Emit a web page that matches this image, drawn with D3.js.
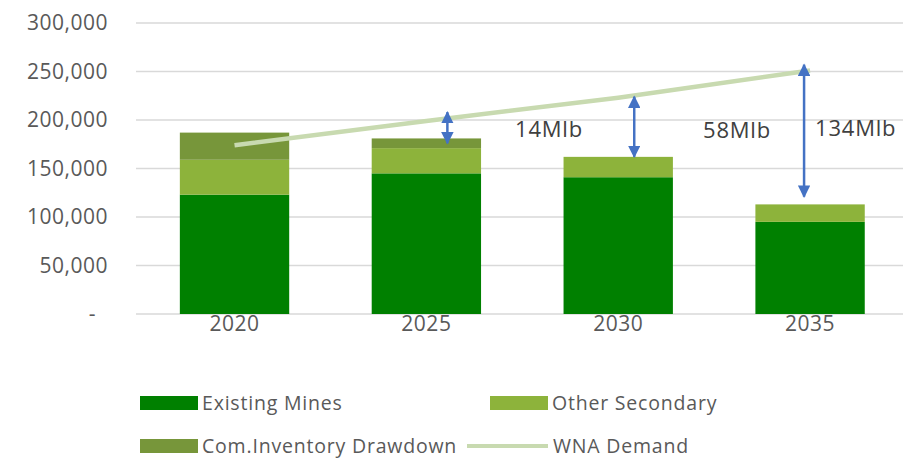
<!DOCTYPE html>
<html>
<head>
<meta charset="utf-8">
<script src="https://cdn.jsdelivr.net/npm/d3@7"></script>
<style>
  body { margin: 0; background: #fff; }
  svg { display: block; font-family: "Open Sans", sans-serif; }
</style>
</head>
<body>
<svg id="chart" width="917" height="459"></svg>
<script>
// DATA
const years = ["2020", "2025", "2030", "2035"];
const existingMines = [123000, 145000, 141000, 95000];
const otherSecondary = [36000, 26000, 21000, 18000];
const inventoryDrawdown = [28000, 10000, 0, 0];
const wnaDemand = [174000, 199000, 223000, 251000];

// supply gap arrows (top, bottom values) and their labels
const gapYears = ["2025", "2030", "2035"];
const gapTop = [208000, 224000, 257000];
const gapBottom = [176000, 162000, 121000];
const gapLabels = ["14Mlb", "58Mlb", "134Mlb"];

const yTicks = [0, 50000, 100000, 150000, 200000, 250000, 300000];

const seriesNames = ["Existing Mines", "Other Secondary", "Com.Inventory Drawdown"];
const seriesColors = ["#008000", "#8db33b", "#77963a"];
const demandColor = "#c8dab0";
const arrowColor = "#4472c4";

// SCALES
const svg = d3.select("#chart");

const x = d3.scaleBand()
  .domain(years)
  .range([138.6, 906])
  .paddingInner(0.43)
  .paddingOuter(0.215);

const y = d3.scaleLinear()
  .domain([0, 300000])
  .range([314, 23]);

// GRID + Y AXIS
svg.append("g")
  .selectAll("line")
  .data(yTicks)
  .join("line")
  .attr("x1", 136)
  .attr("x2", 903)
  .attr("y1", d => y(d))
  .attr("y2", d => y(d))
  .attr("stroke", "#d9d9d9")
  .attr("stroke-width", 1.5);

const fmt = d3.format(",");
svg.append("g")
  .selectAll("text")
  .data(yTicks)
  .join("text")
  .attr("x", d => d === 0 ? 96 : 108)
  .attr("y", d => y(d))
  .attr("dy", "0.35em")
  .attr("text-anchor", "end")
  .attr("fill", "#595959")
  .style("font-size", "21px")
  .style("letter-spacing", "0.5px")
  .text(d => d === 0 ? "-" : fmt(d));

// STACKED BARS
const rows = years.map((yr, i) => ({
  year: yr,
  existing: existingMines[i],
  other: otherSecondary[i],
  inventory: inventoryDrawdown[i]
}));

const stack = d3.stack().keys(["existing", "other", "inventory"]);
const layers = stack(rows);

svg.append("g")
  .selectAll("g")
  .data(layers)
  .join("g")
  .attr("fill", (d, i) => seriesColors[i])
  .selectAll("rect")
  .data(d => d)
  .join("rect")
  .attr("x", d => x(d.data.year))
  .attr("width", x.bandwidth())
  .attr("y", d => y(d[1]))
  .attr("height", d => y(d[0]) - y(d[1]));

// X LABELS
svg.append("g")
  .selectAll("text")
  .data(years)
  .join("text")
  .attr("x", d => x(d) + x.bandwidth() / 2)
  .attr("y", 324)
  .attr("dy", "0.35em")
  .attr("text-anchor", "middle")
  .attr("fill", "#595959")
  .style("font-size", "21px")
  .style("letter-spacing", "0.5px")
  .text(d => d);

// WNA DEMAND LINE
const demandLine = d3.line()
  .x((d, i) => x(years[i]) + x.bandwidth() / 2)
  .y(d => y(d));

svg.append("path")
  .datum(wnaDemand)
  .attr("d", demandLine)
  .attr("fill", "none")
  .attr("stroke", demandColor)
  .attr("stroke-width", 4.5);

// GAP ARROWS
svg.append("defs")
  .append("marker")
  .attr("id", "head")
  .attr("viewBox", "0 0 10 10")
  .attr("refX", 9)
  .attr("refY", 5)
  .attr("markerWidth", 5)
  .attr("markerHeight", 5)
  .attr("orient", "auto-start-reverse")
  .append("path")
  .attr("d", "M0,0 L10,5 L0,10 z")
  .attr("fill", arrowColor);

const arrowShift = [21, 16, -6];

svg.append("g")
  .selectAll("line")
  .data(gapYears)
  .join("line")
  .attr("x1", (d, i) => x(d) + x.bandwidth() / 2 + arrowShift[i])
  .attr("x2", (d, i) => x(d) + x.bandwidth() / 2 + arrowShift[i])
  .attr("y1", (d, i) => y(gapTop[i]))
  .attr("y2", (d, i) => y(gapBottom[i]))
  .attr("stroke", arrowColor)
  .attr("stroke-width", 2.5)
  .attr("marker-start", "url(#head)")
  .attr("marker-end", "url(#head)");

const labelPos = [[515, 129], [703, 130], [815, 128]];
svg.append("g")
  .selectAll("text")
  .data(gapLabels)
  .join("text")
  .attr("x", (d, i) => labelPos[i][0])
  .attr("y", (d, i) => labelPos[i][1])
  .attr("dy", "0.35em")
  .attr("fill", "#404040")
  .style("font-size", "22px")
  .style("letter-spacing", "0.8px")
  .text(d => d);

// LEGEND
const legendItems = [
  { name: seriesNames[0], color: seriesColors[0], type: "rect", x: 140, y: 403 },
  { name: seriesNames[1], color: seriesColors[1], type: "rect", x: 490, y: 403 },
  { name: seriesNames[2], color: seriesColors[2], type: "rect", x: 140, y: 446 },
  { name: "WNA Demand", color: demandColor, type: "line", x: 467, y: 446 }
];

const lg = svg.append("g")
  .selectAll("g")
  .data(legendItems)
  .join("g")
  .attr("transform", d => `translate(${d.x},${d.y})`);

lg.filter(d => d.type === "rect")
  .append("rect")
  .attr("x", 0)
  .attr("y", -7)
  .attr("width", 58)
  .attr("height", 14)
  .attr("fill", d => d.color);

lg.filter(d => d.type === "line")
  .append("line")
  .attr("x1", 0)
  .attr("x2", 81)
  .attr("stroke", d => d.color)
  .attr("stroke-width", 4);

lg.append("text")
  .attr("x", d => d.type === "rect" ? 62 : 86)
  .attr("dy", "0.35em")
  .attr("fill", "#595959")
  .style("font-size", "19.5px")
  .style("letter-spacing", "0.8px")
  .text(d => d.name);
</script>
</body>
</html>
